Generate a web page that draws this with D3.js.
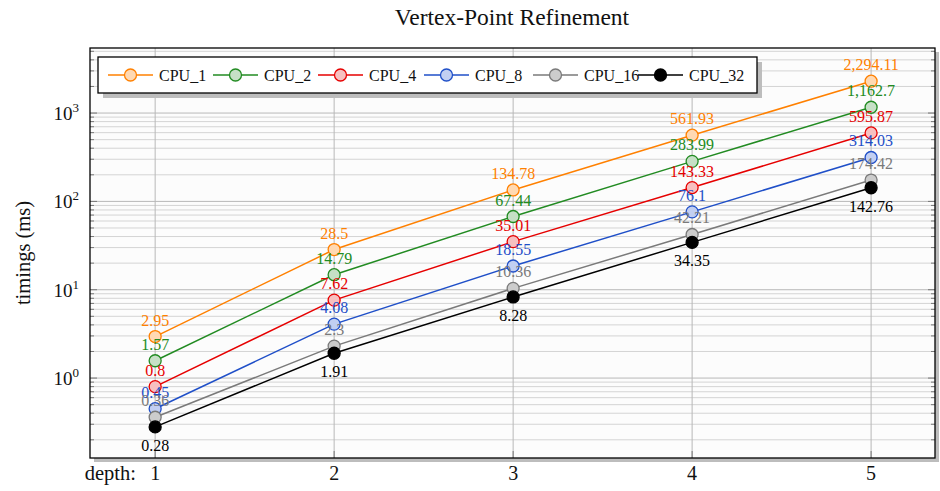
<!DOCTYPE html>
<html><head><meta charset="utf-8">
<script src="https://cdn.jsdelivr.net/npm/d3@7"></script>
<style>
body{margin:0;background:#fff;}
svg, svg text{font-family:"Liberation Serif","Times New Roman",Times,serif;}
</style></head>
<body><svg id="c" width="940" height="491" font-family="Liberation Serif, Times New Roman, serif"></svg>
<script>
const depths = [1, 2, 3, 4, 5];
const seriesNames = ["CPU_1", "CPU_2", "CPU_4", "CPU_8", "CPU_16", "CPU_32"];
const cpu1 = [2.95, 28.5, 134.78, 561.93, 2294.11];
const cpu2 = [1.57, 14.79, 67.44, 283.99, 1162.7];
const cpu4 = [0.8, 7.62, 35.01, 143.33, 595.87];
const cpu8 = [0.45, 4.08, 18.55, 76.1, 314.03];
const cpu16 = [0.36, 2.3, 10.36, 42.21, 174.42];
const cpu32 = [0.28, 1.91, 8.28, 34.35, 142.76];
const yTickExps = [0, 1, 2, 3];
const title = "Vertex-Point Refinement";
const yLabel = "timings (ms)";
const xLabel = "depth:";

const values = [cpu1, cpu2, cpu4, cpu8, cpu16, cpu32];
const strokes = ["#ff8000", "#228b22", "#e60000", "#1f4fc8", "#7a7a7a", "#000000"];
const fills = ["#ffd9b3", "#c6e0c6", "#f7c0c0", "#c2cff2", "#cccccc", "#000000"];
const FONT = "Liberation Serif, Times New Roman, serif";

const svg = d3.select("#c");
const L = 90, R = 935, T = 48, B = 458;

const x = d3.scaleLinear().domain([0.636, 5.357]).range([L, R]);
const y = d3.scaleLog().domain([0.1245, 5450]).range([B, T]);

svg.append("rect").attr("x", L + 4).attr("y", T + 4).attr("width", R - L).attr("height", B - T).attr("fill", "#bdbdbd");
svg.append("rect").attr("x", L).attr("y", T).attr("width", R - L).attr("height", B - T).attr("fill", "#fcfcfc");

const g = svg.append("g");
const minor = [];
for (let e = -1; e <= 3; e++) for (let m = 1; m <= 9; m++) {
  const v = m * Math.pow(10, e);
  if (v > y.domain()[0] && v < y.domain()[1]) minor.push({v, major: m === 1});
}
g.selectAll("line.hg").data(minor).enter().append("line")
  .attr("x1", L).attr("x2", R)
  .attr("y1", d => y(d.v)).attr("y2", d => y(d.v))
  .attr("stroke", d => d.major ? "#b8b8b8" : "#d4d4d4").attr("stroke-width", 1);
g.selectAll("line.vg").data(depths).enter().append("line")
  .attr("x1", d => x(d)).attr("x2", d => x(d)).attr("y1", T).attr("y2", B)
  .attr("stroke", "#b8b8b8");
g.selectAll("line.tl").data(minor).enter().append("line")
  .attr("x1", L).attr("x2", d => L + (d.major ? 7 : 4))
  .attr("y1", d => y(d.v)).attr("y2", d => y(d.v)).attr("stroke", "#777");
g.selectAll("line.tr").data(minor).enter().append("line")
  .attr("x1", R).attr("x2", d => R - (d.major ? 7 : 4))
  .attr("y1", d => y(d.v)).attr("y2", d => y(d.v)).attr("stroke", "#777");
g.selectAll("line.tb").data(depths).enter().append("line")
  .attr("x1", d => x(d)).attr("x2", d => x(d)).attr("y1", B).attr("y2", B - 7).attr("stroke", "#777");

svg.append("rect").attr("x", L).attr("y", T).attr("width", R - L).attr("height", B - T)
  .attr("fill", "none").attr("stroke", "#000").attr("stroke-width", 1.3);

const yt = svg.selectAll("text.yt").data(yTickExps).enter().append("text")
  .attr("font-family", FONT)
  .attr("x", 79).attr("y", d => y(Math.pow(10, d)) + 7)
  .attr("text-anchor", "end").attr("font-size", 19).attr("fill", "#111");
yt.append("tspan").text("10");
yt.append("tspan").attr("dy", -8).attr("font-size", 13).text(d => d);

svg.selectAll("text.xt").data(depths).enter().append("text")
  .attr("font-family", FONT)
  .attr("x", d => x(d)).attr("y", 480).attr("text-anchor", "middle")
  .attr("font-size", 20).attr("fill", "#111").text(d => d);
svg.append("text").attr("font-family", FONT).attr("x", 136).attr("y", 480).attr("text-anchor", "end")
  .attr("font-size", 20.5).attr("fill", "#111").text(xLabel);

svg.append("text").attr("font-family", FONT).attr("x", 512).attr("y", 25).attr("text-anchor", "middle")
  .attr("font-size", 23.5).attr("fill", "#111").text(title);
svg.append("text").attr("font-family", FONT).attr("transform", "translate(30,253) rotate(-90)")
  .attr("text-anchor", "middle").attr("font-size", 20.5).attr("fill", "#111").text(yLabel);

const line = d3.line().x((d, i) => x(depths[i])).y(d => y(d));
const fmt = d3.format(",");
values.forEach((vals, si) => {
  const sg = svg.append("g");
  sg.append("path").attr("d", line(vals)).attr("fill", "none")
    .attr("stroke", strokes[si]).attr("stroke-width", 1.5);
  sg.selectAll("circle").data(vals).enter().append("circle")
    .attr("cx", (d, i) => x(depths[i])).attr("cy", d => y(d)).attr("r", 6)
    .attr("fill", fills[si]).attr("stroke", strokes[si]).attr("stroke-width", 1.3);
});
values.forEach((vals, si) => {
  const below = si === 5;
  svg.append("g").selectAll("text").data(vals).enter().append("text")
    .attr("font-family", FONT)
    .attr("x", (d, i) => x(depths[i])).attr("y", d => y(d) + (below ? 24 : -11))
    .attr("text-anchor", "middle").attr("font-size", 16)
    .attr("fill", strokes[si]).text(d => fmt(d));
});

const lx = 98, ly = 57, lw = 659, lh = 36;
svg.append("rect").attr("x", lx + 5).attr("y", ly + 5).attr("width", lw).attr("height", lh).attr("fill", "#bdbdbd");
svg.append("rect").attr("x", lx).attr("y", ly).attr("width", lw).attr("height", lh)
  .attr("fill", "#fff").attr("stroke", "#000").attr("stroke-width", 1.3);
const legStarts = [108, 213, 318, 424, 533, 638];
seriesNames.forEach((n, i) => {
  const s = legStarts[i];
  const lg = svg.append("g");
  lg.append("line").attr("x1", s).attr("x2", s + 45).attr("y1", ly + 18).attr("y2", ly + 18)
    .attr("stroke", strokes[i]).attr("stroke-width", 1.5);
  lg.append("circle").attr("cx", s + 22.5).attr("cy", ly + 18).attr("r", 6)
    .attr("fill", fills[i]).attr("stroke", strokes[i]).attr("stroke-width", 1.3);
  lg.append("text").attr("font-family", FONT).attr("x", s + 51).attr("y", ly + 24).attr("font-size", 16)
    .attr("fill", "#111").text(n);
});
</script></body></html>
